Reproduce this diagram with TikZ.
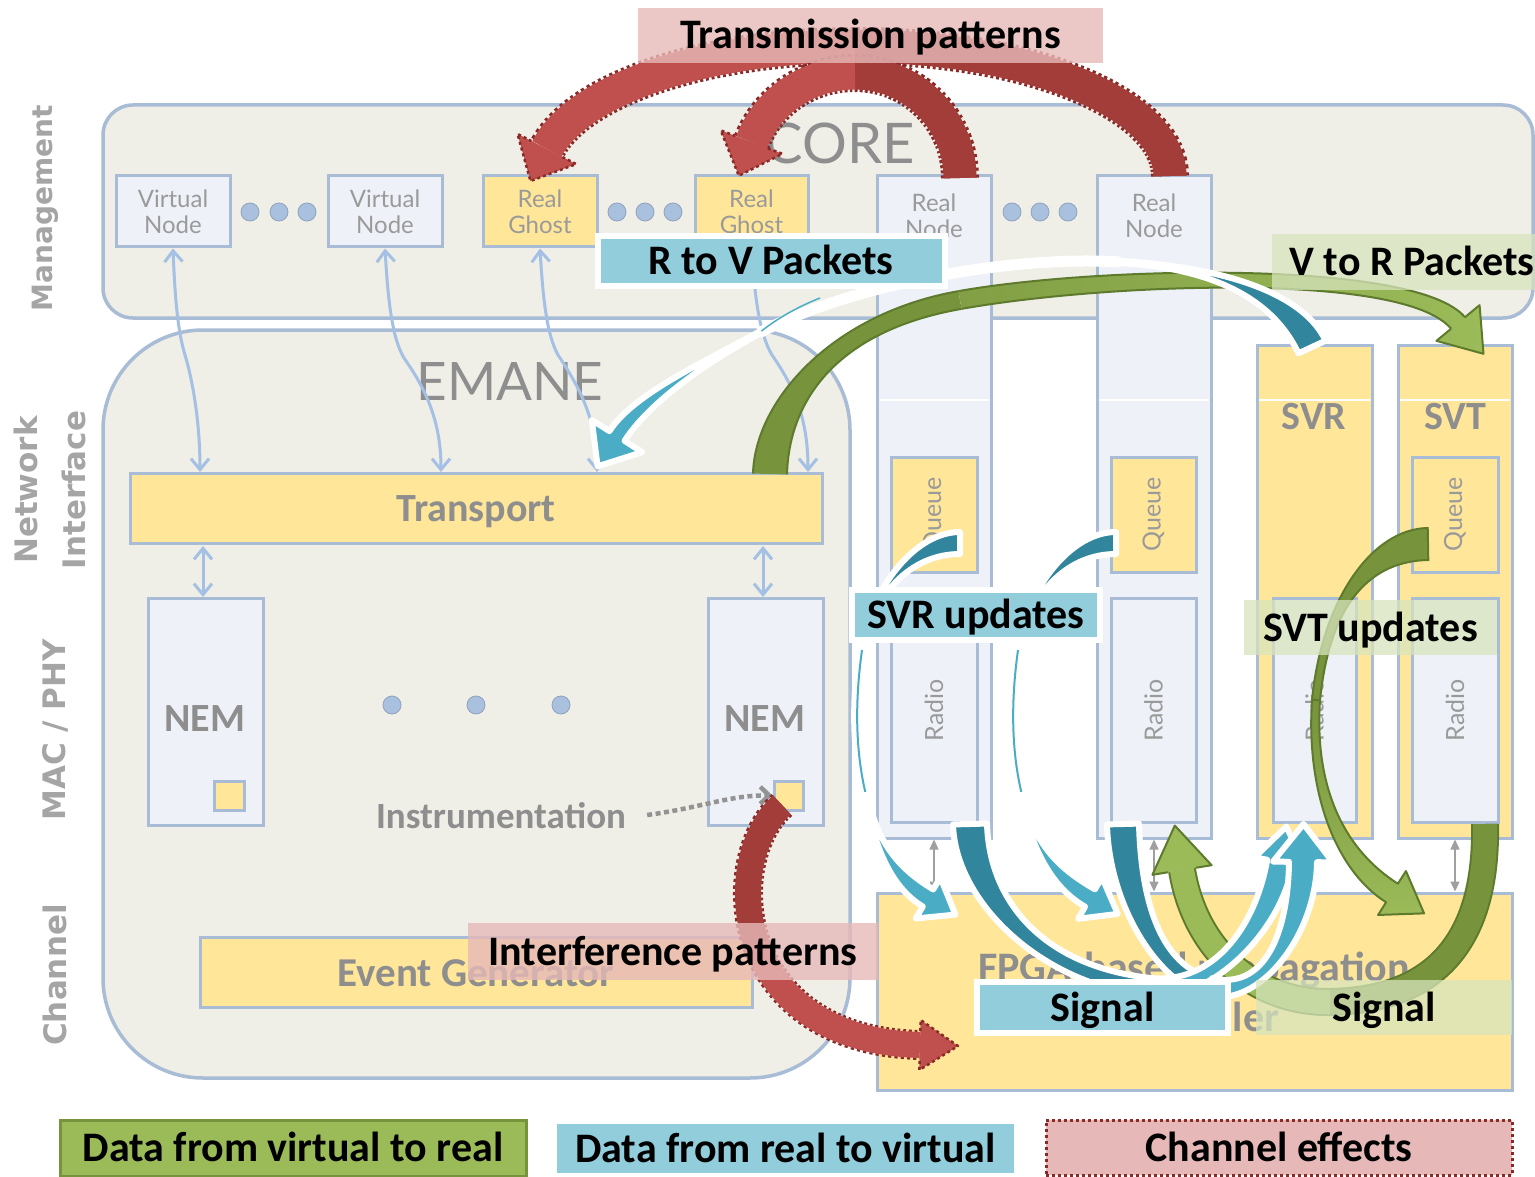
\documentclass[tikz,border=0pt]{standalone}
\usepackage{fontspec}
\setmainfont{Carlito}
\newfontfamily\lightf{Lato}
\newfontfamily\sidef{DejaVu Sans}
\usetikzlibrary{calc,arrows.meta,fit}

\definecolor{bordc}{HTML}{A9BCD6}
\definecolor{contf}{HTML}{EFEEE7}
\definecolor{nodef}{HTML}{EEF2F8}
\definecolor{ylw}{HTML}{FFE699}
\definecolor{ltxt}{HTML}{9A9A9A}
\definecolor{gtxt}{HTML}{8E8E8E}
\definecolor{sidec}{HTML}{A5A5A5}
\definecolor{connc}{HTML}{A4C0E4}
\definecolor{dotc}{HTML}{A9C0DE}
\definecolor{tealc}{HTML}{31859C}
\definecolor{lblue}{HTML}{4BACC6}
\definecolor{lablue}{HTML}{92CDDC}
\definecolor{dgreen}{HTML}{77933C}
\definecolor{lgreen}{HTML}{9BBB59}
\definecolor{gline}{HTML}{5E7A2C}
\definecolor{labgreen}{HTML}{D7E4BD}
\definecolor{pinkc}{HTML}{E6B9B8}
\definecolor{redl}{HTML}{C0504D}
\definecolor{redd}{HTML}{A33D3A}
\definecolor{redo}{HTML}{8A2A27}
\definecolor{instc}{HTML}{939393}

% box from two corners
\newcommand\mkbox[4]{\node[#1, fit={(#3) (#4)}] (#2) {};}
% tapered band: P0 C1 C2 P3 w0 w3 headhalfwidth headlength
\newcommand\tbdef[8]{%
  \coordinate (L0) at ($(#1)!#5!90:(#2)$);
  \coordinate (R0) at ($(#1)!#5!-90:(#2)$);
  \coordinate (L3) at ($(#4)!#6!-90:(#3)$);
  \coordinate (R3) at ($(#4)!#6!90:(#3)$);
  \coordinate (L1) at ($(#2)+(L0)-(#1)$);
  \coordinate (R1) at ($(#2)+(R0)-(#1)$);
  \coordinate (L2) at ($(#3)+(L3)-(#4)$);
  \coordinate (R2) at ($(#3)+(R3)-(#4)$);
  \coordinate (HL) at ($(#4)!#7!-90:(#3)$);
  \coordinate (HR) at ($(#4)!#7!90:(#3)$);
  \coordinate (HT) at ($(#4)!-#8!(#3)$);
}
\newcommand\tbfill[1]{\path[#1] (L0) .. controls (L1) and (L2) .. (L3) -- (HL) -- (HT) -- (HR) -- (R3) .. controls (R2) and (R1) .. (R0) -- cycle;}
\newcommand\tbside[1]{\path[#1] (L0) .. controls (L1) and (L2) .. (L3) (R3) .. controls (R2) and (R1) .. (R0);}
\newcommand\tbhead[1]{\path[#1] (L3) -- (HL) -- (HT) -- (HR) -- (R3);}
% arrow head: base, reference behind, halfwidth, length, body halfwidth, fill style, outline style
\newcommand\ahead[7]{%
  \path[#6] ($(#1)!#3!-90:(#2)$) -- ($(#1)!-#4!(#2)$) -- ($(#1)!#3!90:(#2)$) -- cycle;
  \path[#7] ($(#1)!#5!-90:(#2)$) -- ($(#1)!#3!-90:(#2)$) -- ($(#1)!-#4!(#2)$) -- ($(#1)!#3!90:(#2)$) -- ($(#1)!#5!90:(#2)$);
}

\begin{document}
\begin{tikzpicture}[x=1pt,y=-1pt,
  cont/.style={draw=bordc, line width=3.5pt, fill=contf, inner sep=0pt},
  wbox/.style={draw=bordc, line width=3pt, fill=nodef, inner sep=0pt},
  ybox/.style={draw=bordc, line width=3pt, fill=ylw, inner sep=0pt},
  lt/.style={font=\lightf\fontsize{24}{26}\selectfont, text=ltxt, align=center, inner sep=0pt},
  ltr/.style={font=\lightf\fontsize{25}{28}\selectfont, text=ltxt, rotate=90, inner sep=0pt},
  bigl/.style={font=\lightf\fontsize{56}{60}\selectfont, text=gtxt, inner sep=0pt},
  gb/.style={font=\bfseries\fontsize{40}{44}\selectfont, text=gtxt, inner sep=0pt, text height=26pt, text depth=0pt},
  side/.style={font=\sidef\bfseries\fontsize{31}{48}\selectfont, text=sidec, rotate=90, align=center, inner sep=0pt},
  lab/.style={font=\bfseries\fontsize{42}{46}\selectfont, text=black, inner sep=0pt, text height=27pt, text depth=0pt},
  lbl/.style={lab, fill=lablue, draw=white, line width=6pt},
  pnk/.style={lab, fill=pinkc, fill opacity=0.8, text opacity=1},
  grn/.style={lab, fill=labgreen, fill opacity=0.75, text opacity=1},
  conn/.style={draw=connc, line width=3pt, {Straight Barb[length=11pt,width=18pt]}-{Straight Barb[length=11pt,width=18pt]}},
  garr/.style={draw=gray!75, line width=1.3pt, {Triangle[length=10pt,width=9pt]}-{Triangle[length=10pt,width=9pt]}},
  dotn/.style={circle, fill=dotc, draw=dotc!85!black, line width=0.8pt, minimum size=18pt, inner sep=0pt},
  rdots/.style={draw=redo, line width=38pt, dash pattern=on 3pt off 3pt},
  rhd/.style={draw=redo, line width=2.5pt, dash pattern=on 3pt off 3pt, line join=round},
  tealst/.style={fill=tealc, draw=white, line width=6pt, line join=round},
  bluest/.style={fill=lblue, draw=white, line width=6pt, line join=round}
]
\useasboundingbox (0,0) rectangle (1535,1177);
\fill[white] (0,0) rectangle (1535,1177);

% ---------- containers ----------
\node[cont, rounded corners=30pt, fit={(103,105) (1533,318)}] (mgmt) {};
\node[cont, rounded corners=100pt, fit={(103,330) (850,1078)}] (emane) {};
\node[bigl] (coret) at (840,143) {CORE};
\node[bigl, font=\lightf\fontsize{53}{57}\selectfont] (emanet) at (510,382) {EMANE};

% ---------- side labels ----------
\node[side, font=\sidef\bfseries\fontsize{28}{34}\selectfont] (smg) at (45,208) {Management};
\node[side] (sni) at (50,490) {Network\\Interface};
\node[side] (smac) at (55,730) {MAC / PHY};
\node[side] (sch) at (55,975) {Channel};

% ---------- management row ----------
\mkbox{wbox}{vn1}{116,176}{230,247}
\mkbox{wbox}{vn2}{328,176}{442,247}
\mkbox{ybox}{rg1}{483,176}{597,247}
\mkbox{ybox}{rg2}{695,176}{808,247}
\mkbox{wbox}{rn1}{877,176}{991,838}
\mkbox{wbox}{rn2}{1097,176}{1211,838}
\mkbox{ybox}{svr}{1257,345}{1372,838}
\mkbox{ybox}{svt}{1398,345}{1512,838}
\foreach \xa/\xb in {879/989,1099/1209,1259/1370,1400/1510}
  \draw[white, line width=1.5pt] (\xa,400) -- (\xb,400);
\node[lt] (vn1t) at (vn1.center) {Virtual\\Node};
\node[lt] (vn2t) at (vn2.center) {Virtual\\Node};
\node[lt] (rg1t) at (rg1.center) {Real\\Ghost};
\node[lt] (rg2t) at (rg2.center) {Real\\Ghost};
\node[lt] (rn1t) at (934,216) {Real\\Node};
\node[lt] (rn2t) at (1154,216) {Real\\Node};
\node[gb] (svrt) at (1314,416) {SVR};
\node[gb] (svtt) at (1455,416) {SVT};
\foreach \i/\x in {1/250,2/279,3/307,4/617,5/645,6/673,7/1012,8/1040,9/1068}
  \node[dotn] (md\i) at (\x,212) {};

\mkbox{ybox}{q1}{891,457}{977,572}
\mkbox{ybox}{q2}{1111,457}{1196,572}
\mkbox{ybox}{q3}{1412,457}{1498,572}
\mkbox{wbox}{ra1}{891,598}{977,822}
\mkbox{wbox}{ra2}{1111,598}{1196,822}
\mkbox{wbox}{ra3}{1273,598}{1356,822}
\mkbox{wbox}{ra4}{1412,598}{1498,822}
\node[ltr] (q1t) at (q1.center) {Queue};
\node[ltr] (q2t) at (q2.center) {Queue};
\node[ltr] (q3t) at (q3.center) {Queue};
\node[ltr] (ra1t) at (ra1.center) {Radio};
\node[ltr] (ra2t) at (ra2.center) {Radio};
\node[ltr] (ra3t) at (ra3.center) {Radio};
\node[ltr] (ra4t) at (ra4.center) {Radio};

% ---------- FPGA ----------
\mkbox{ybox}{fpga}{877,893}{1512,1090}
\node[gb, font=\bfseries\fontsize{42}{46}\selectfont] (fp1) at (1194,968) {FPGA-based propagation};
\node[gb, font=\bfseries\fontsize{42}{46}\selectfont] (fp2) at (1194,1018) {controller};
\draw[garr] (rn1.south) -- (rn1.south |- fpga.north);
\draw[garr] (rn2.south) -- (rn2.south |- fpga.north);
\draw[garr] (svt.south) -- (svt.south |- fpga.north);

% ---------- EMANE internals ----------
\mkbox{ybox}{transport}{130,473}{822,543}
\node[gb] (transt) at (476,508) {Transport};
\mkbox{wbox}{nem1}{148,598}{263,825}
\mkbox{wbox}{nem2}{708,598}{823,825}
\node[gb] (nem1t) at (205,718) {NEM};
\node[gb] (nem2t) at (765,718) {NEM};
\mkbox{ybox}{sq1}{214,781}{244,810}
\mkbox{ybox}{sq2}{774,781}{803,810}
\foreach \i/\x in {1/392,2/476,3/561}
  \node[dotn] (nd\i) at (\x,705) {};
\mkbox{ybox}{evg}{200,937}{752,1007}
\node[gb, font=\bfseries\fontsize{41}{45}\selectfont] (evgt) at (476,973) {Event Generator};
\node[gb, font=\bfseries\fontsize{37}{41}\selectfont] (instr) at (501,815) {Instrumentation};

% ---------- light connectors ----------
\coordinate (t1) at (200,472);
\coordinate (t2) at (441,472);
\coordinate (t3) at (597,472);
\coordinate (t4) at (808,472);
\draw[conn] (vn1.south) .. controls (175,300) and (178,332) .. (185,355) .. controls (192,378) and (200,420) .. (t1);
\draw[conn] (vn2.south) .. controls (388,300) and (392,338) .. (404,358) .. controls (425,388) and (441,420) .. (t2);
\draw[conn] (rg1.south) .. controls (543,300) and (547,335) .. (558,355) .. controls (580,388) and (597,420) .. (t3);
\draw[conn] (rg2.south) .. controls (755,300) and (760,335) .. (772,355) .. controls (795,388) and (808,420) .. (t4);
\coordinate (n1a) at (203,546); \coordinate (n1b) at (203,597);
\coordinate (n2a) at (763,546); \coordinate (n2b) at (763,597);
\draw[conn] (n1a) -- (n1b);
\draw[conn] (n2a) -- (n2b);

% ---------- V to R (green) ----------
\tbdef{770,474}{772,400}{835,322}{960,300}{17pt}{9pt}{9pt}{0pt}
\tbfill{fill=dgreen}
\tbside{draw=gline, line width=2pt}
\tbdef{960,300}{1100,275}{1410,265}{1458,323}{9pt}{9pt}{28pt}{40pt}
\tbfill{left color=dgreen!70!lgreen, right color=lgreen}
\tbside{draw=gline, line width=2pt}
\tbhead{draw=gline, line width=2pt, line join=round}

% ---------- R to V (blue) ----------
\tbdef{1312,347}{1290,300}{1225,268}{1120,262}{15pt}{1pt}{1pt}{0pt}
\tbfill{tealst}
\draw[white, line width=11pt] (1120,262) .. controls (1010,255) and (850,285) .. (759,333);
\draw[lblue, line width=1.5pt] (820,298) .. controls (795,308) and (775,320) .. (759,333);
\tbdef{759,333}{700,365}{640,400}{617,436}{1pt}{9pt}{30pt}{36pt}
\tbfill{bluest}

% ---------- transmission patterns (red) ----------
\draw[rdots] (1170,176) arc[start angle=0, end angle=168, x radius=315pt, y radius=130pt];
\draw[redd, line width=33pt] (1170,176) arc[start angle=0, end angle=90, x radius=315pt, y radius=130pt];
\draw[redl, line width=33pt] (855,46) arc[start angle=90, end angle=168, x radius=315pt, y radius=130pt];
\ahead{546.9,149}{565.2,113.4}{33pt}{36pt}{17.5pt}{fill=redl}{rhd}
\draw[rdots] (960,178) arc[start angle=0, end angle=90, radius=105pt] arc[start angle=90, end angle=160, x radius=110pt, y radius=105pt];
\draw[redd, line width=33pt] (960,178) arc[start angle=0, end angle=90, radius=105pt];
\draw[redl, line width=33pt] (855,73) arc[start angle=90, end angle=160, x radius=110pt, y radius=105pt];
\ahead{751.6,142.1}{765.8,104.7}{33pt}{36pt}{17.5pt}{fill=redl}{rhd}

% ---------- green signal (SVT -> real) ----------
\draw[gline, line width=28pt] (1485,824) .. controls (1487,930) and (1445,1000) .. (1330,1002) .. controls (1255,1003) and (1195,950) .. (1182,870);
\draw[dgreen, line width=24pt] (1485,824) .. controls (1487,930) and (1445,1000) .. (1330,1002);
\draw[lgreen, line width=24pt] (1330,1002) .. controls (1255,1003) and (1195,950) .. (1182,870);
\ahead{1182,870}{1195,950}{30pt}{45pt}{14pt}{fill=lgreen}{draw=gline, line width=2pt, line join=round}

% ---------- SVT updates ----------
\tbdef{1428,544}{1372,545}{1326,600}{1316,700}{16pt}{4pt}{4pt}{0pt}
\tbfill{fill=dgreen, draw=gline, line width=2pt}
\tbdef{1316,700}{1310,790}{1340,860}{1392,893}{4pt}{11pt}{26pt}{38pt}
\tbfill{top color=dgreen, bottom color=lgreen, draw=gline, line width=2pt, line join=round}

% ---------- SVR updates ----------
\tbdef{960,543}{915,543}{873,588}{862,650}{11pt}{1.5pt}{1.5pt}{0pt}
\tbfill{tealst}
\draw[white, line width=12pt] (862,650) .. controls (855,700) and (855,750) .. (866,795);
\draw[lblue, line width=2pt] (862,650) .. controls (855,700) and (855,750) .. (866,795);
\tbdef{866,795}{876,845}{895,878}{928,898}{1.5pt}{10pt}{24pt}{32pt}
\tbfill{bluest}
\tbdef{1116,543}{1071,543}{1029,588}{1018,650}{11pt}{1.5pt}{1.5pt}{0pt}
\tbfill{tealst}
\draw[white, line width=12pt] (1018,650) .. controls (1011,700) and (1011,750) .. (1022,795);
\draw[lblue, line width=2pt] (1018,650) .. controls (1011,700) and (1011,750) .. (1022,795);
\tbdef{1022,795}{1032,845}{1055,878}{1090,898}{1.5pt}{10pt}{24pt}{32pt}
\tbfill{bluest}

% ---------- signal (real -> SVR) ----------
\tbdef{970,824}{972,900}{1040,975}{1150,987}{17pt}{9pt}{9pt}{0pt}
\tbfill{tealst}
\tbdef{1123,824}{1125,905}{1160,975}{1210,987}{16pt}{9pt}{9pt}{0pt}
\tbfill{tealst}
\tbdef{1150,987}{1212,993}{1268,930}{1280,862}{9pt}{13pt}{26pt}{36pt}
\tbfill{bluest}
\tbdef{1210,987}{1262,999}{1302,935}{1303,862}{9pt}{14pt}{30pt}{38pt}
\tbfill{bluest}

% ---------- instrumentation ----------
\draw[instc, line width=4.5pt, dash pattern=on 5pt off 3.5pt, -{Straight Barb[length=9pt,width=17pt]}]
  ($(instr.east)+(21,0)$) .. controls (700,808) and (730,795) .. (sq2.west);

% ---------- interference patterns (red) ----------
\draw[rdots, line width=30pt] (782,805) .. controls (720,860) and (730,1040) .. (920,1045);
\draw[redd, line width=26pt] (782,805) .. controls (751,832.5) and (738,891.25) .. (756.5,943.75);
\draw[redl, line width=26pt] (756.5,943.75) .. controls (775,996.25) and (825,1042.5) .. (920,1045);
\ahead{920,1045}{730,1040}{25pt}{38pt}{14pt}{fill=redl}{rhd}

% ---------- labels ----------
\node[pnk, minimum width=465pt, minimum height=55pt] (ltp) at (870.5,35.5) {Transmission patterns};
\node[pnk, minimum width=410pt, minimum height=57pt] (lip) at (673,951.5) {Interference patterns};
\node[lbl, minimum width=347pt, minimum height=50pt] (lrv) at (771,261) {R to V Packets};
\node[grn, minimum width=275pt, minimum height=56pt, anchor=west] (lvr) at (1272,262) {};
\node[lab] (lvrt) at (1412,262) {V to R Packets};
\node[lbl, minimum width=248pt, minimum height=50pt] (lsvr) at (976,615) {SVR updates};
\node[grn, minimum width=253pt, minimum height=55pt] (lsvt) at (1370.5,627.5) {SVT updates};
\node[lbl, minimum width=251pt, minimum height=51pt] (lsig1) at (1102.5,1007.5) {Signal};
\node[grn, minimum width=256pt, minimum height=55pt] (lsig2) at (1384,1007.5) {Signal};

% ---------- legend ----------
\node[lab, fill=lgreen, draw=dgreen, line width=3pt, minimum width=466pt, minimum height=56pt] (leg1) at (293,1148) {Data from virtual to real};
\node[lab, fill=lablue, minimum width=457pt, minimum height=49pt] (leg2) at (785.5,1148.5) {Data from real to virtual};
\node[lab, fill=pinkc, draw=redo, line width=3pt, dash pattern=on 3pt off 3pt, minimum width=466pt, minimum height=55pt] (leg3) at (1279,1147.5) {Channel effects};
\end{tikzpicture}
\end{document}
